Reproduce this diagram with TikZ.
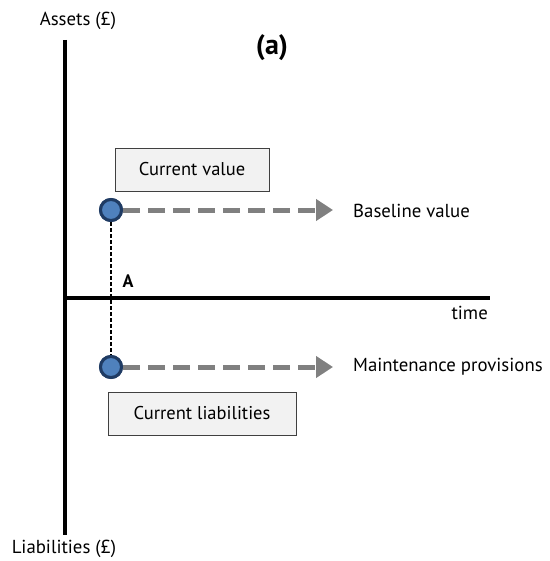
\documentclass[tikz,border=0pt]{standalone}
\usepackage{fontspec}
\setmainfont{PT Sans}
\usetikzlibrary{arrows.meta}
\definecolor{dotfill}{HTML}{4F81BD}
\definecolor{dotline}{HTML}{1F3B63}
\definecolor{boxfill}{HTML}{F2F2F2}
\definecolor{boxline}{HTML}{404040}
\definecolor{arrgray}{HTML}{808080}
\tikzset{
  axis/.style={line width=4pt, black},
  valbox/.style={draw=boxline, fill=boxfill, line width=0.8pt, minimum height=43pt, inner sep=0pt, font=\fontsize{18.5}{22}\selectfont},
  dot/.style={circle, draw=dotline, fill=dotfill, line width=3pt, minimum size=21pt, inner sep=0pt},
  flow/.style={arrgray, line width=5pt, dash pattern=on 17pt off 8pt, -{Triangle[length=17pt,width=21pt]}, shorten >=0pt},
  lab/.style={font=\fontsize{18.8}{22}\selectfont, inner sep=0pt},
}
\begin{document}
\begin{tikzpicture}[x=1pt,y=-1pt]
\useasboundingbox (0,0) rectangle (549,561);
\coordinate (vtop) at (65,40);
\coordinate (vbot) at (65,535);
\coordinate (horig) at (63,298);
\coordinate (hend) at (490,298);
\draw[axis] (vtop) -- (vbot);
\draw[axis] (horig) -- (hend);
\node[lab, anchor=center] (assets) at (78,21) {Assets (£)};
\node[lab, anchor=center] (liab) at (64,549) {Liabilities (£)};
\node[lab, font=\fontsize{28}{32}\selectfont\bfseries] (a) at (272,48) {(a)};
\node[lab, anchor=east] (time) at (488,313) {time};
\node[lab, font=\fontsize{18}{21}\selectfont\bfseries] (A) at (128,281) {A};
\node[valbox, minimum width=154pt] (cv) at (192,169.5) {Current value};
\node[valbox, minimum width=188pt] (cl) at (202,413.5) {Current liabilities};
\node[dot] (d1) at (111,210) {};
\node[dot] (d2) at (111,367) {};
\coordinate (e1) at (333,210);
\coordinate (e2) at (333,367);
\draw[black, line width=1.2pt, dash pattern=on 4pt off 2pt] (d1.center) -- (d2.center);
\node[dot] at (d1) {};
\node[dot] at (d2) {};
\draw[flow] (d1.east) -- (e1);
\draw[flow] (d2.east) -- (e2);
\node[lab, anchor=west] (bv) at (353,211) {Baseline value};
\node[lab, anchor=west] (mp) at (353,367) {Maintenance provisions};
\end{tikzpicture}
\end{document}
